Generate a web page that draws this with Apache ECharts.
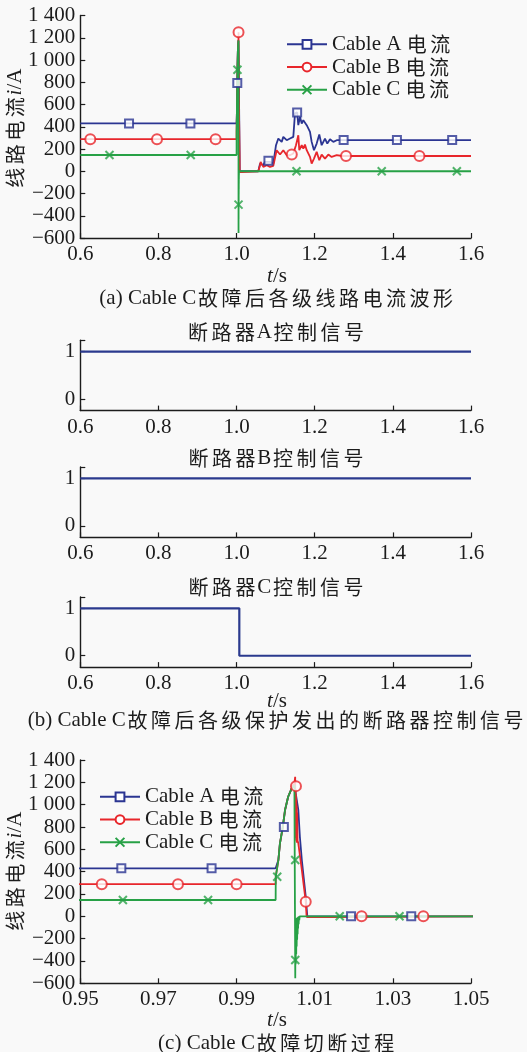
<!DOCTYPE html>
<html>
<head>
<meta charset="utf-8">
<script src="https://cdn.jsdelivr.net/npm/echarts@6/dist/echarts.min.js"></script>
<style>
  html, body { margin: 0; padding: 0; background: #f9f9f9; }
  #chart { width: 527px; height: 1052px; }
</style>
</head>
<body>
<div id="chart"></div>
<script>
// ---- line currents i (A) against time t (s) ----
const cableA = [
  [0.6, 430], [1.0, 430], [1.0004, 440], [1.0007, 504], [1.0011, 654], [1.0018, 794], [1.0024, 952],
  [1.0032, 1071], [1.0041, 1146], [1.0048, 1176], [1.0051, 1185], [1.0058, 954], [1.0062, 713],
  [1.0067, 504], [1.0077, 176], [1.0081, 0],
  [1.0556, 0], [1.06, 69], [1.0684, 54], [1.0727, 84], [1.0771, 99], [1.0855, 84], [1.094, 69],
  [1.0983, 84], [1.1009, 234], [1.1068, 294], [1.1155, 264], [1.1196, 309], [1.1283, 279],
  [1.1367, 294], [1.1452, 309], [1.1495, 520], [1.155, 529], [1.158, 414], [1.1623, 489],
  [1.1667, 429], [1.1708, 459], [1.1795, 414], [1.1836, 420], [1.1879, 354], [1.1922, 264],
  [1.1981, 189], [1.205, 249], [1.2117, 330], [1.2178, 234], [1.2263, 294], [1.2322, 249],
  [1.2391, 288], [1.2476, 264], [1.2563, 279], [1.269, 280], [1.6, 280]
];
const cableB = [
  [0.6, 288], [1.0, 288], [1.00003, 355], [1.0007, 504], [1.0011, 654], [1.0018, 794], [1.0024, 952],
  [1.0032, 1071], [1.0041, 1146], [1.0048, 1190], [1.005, 1250],
  [1.00505, 720], [1.0051, 1140], [1.00515, 700], [1.0052, 1090], [1.00525, 680], [1.0053, 1040],
  [1.00535, 670], [1.0054, 990], [1.00545, 660], [1.0055, 930], [1.0056, 680], [1.0058, 654],
  [1.0067, 415], [1.0077, 131], [1.0079, 12], [1.008, -8], [1.0135, -8], [1.0136, 0],
  [1.0556, 0], [1.06, 54], [1.0615, 84], [1.0684, 39], [1.0771, 54], [1.0855, 39], [1.094, 48],
  [1.0983, 48], [1.1026, 189], [1.1068, 204], [1.1112, 150], [1.1196, 189], [1.1283, 144],
  [1.1367, 144], [1.1452, 159], [1.152, 234], [1.158, 324], [1.1605, 189], [1.1667, 234],
  [1.1708, 204], [1.175, 240], [1.1795, 189], [1.1879, 129], [1.1922, 69], [1.1981, 114],
  [1.205, 174], [1.2117, 99], [1.2178, 150], [1.2263, 114], [1.2348, 150], [1.2433, 129],
  [1.2563, 144], [1.27, 137], [1.6, 137]
];
const cableC = [
  [0.6, 146], [1.0, 146], [1.00003, 355], [1.0007, 504], [1.0011, 654], [1.0018, 794], [1.0024, 952],
  [1.0032, 1071], [1.0041, 1146], [1.0048, 1176], [1.005, 1180],
  [1.00502, -555], [1.00508, -30], [1.00514, -430], [1.0052, -25], [1.00526, -340], [1.00532, -20],
  [1.00538, -270], [1.00544, -15], [1.0055, -210], [1.00556, -10], [1.00562, -160], [1.00568, -8],
  [1.00574, -110], [1.0058, -5], [1.00588, -70], [1.00596, 0], [1.00605, -35], [1.00615, 0],
  [1.6, 0]
];

// marker positions on the full-range view (a)
const marksA_full = [[0.7247, 430], [0.8818, 430], [1.0018, 794], [1.0815, 95], [1.155, 529],
  [1.274, 280], [1.4104, 280], [1.5518, 280]];
const marksB_full = [[0.6256, 288], [0.7963, 288], [0.9463, 288], [1.005, 1250], [1.1413, 150],
  [1.2801, 137], [1.468, 137]];
const marksC_full = [[0.6747, 146], [0.8826, 146], [1.0022, 912], [1.00501, -300], [1.1534, 0],
  [1.3715, 0], [1.5638, 0]];

// marker positions on the close-up view (c)
const marksA_zoom = [[0.9605, 430], [0.9836, 430], [1.0021, 800], [1.0193, 0], [1.0347, 0]];
const marksB_zoom = [[0.9555, 288], [0.975, 288], [0.99, 288], [1.0052, 1166], [1.0077, 131],
  [1.022, 0], [1.0378, 0]];
const marksC_zoom = [[0.9609, 146], [0.9827, 146], [1.0004, 355], [1.00501, 504], [1.00502, -391],
  [1.0164, 0], [1.0317, 0]];

// ---- breaker control signals ----
const sigA = [[0.6, 1], [1.6, 1]];
const sigB = [[0.6, 1], [1.6, 1]];
const sigC = [[0.6, 1], [1.007, 1], [1.007, 0], [1.6, 0]];

// ---- ticks ----
const xTicksFull = [0.6, 0.8, 1.0, 1.2, 1.4, 1.6];
const xTicksZoom = [0.95, 0.97, 0.99, 1.01, 1.03, 1.05];
const yTicksCurrent = [-600, -400, -200, 0, 200, 400, 600, 800, 1000, 1200, 1400];
const yTicksSignal = [0, 1];

// ---- texts ----
const seriesNames = ['Cable A 电流', 'Cable B 电流', 'Cable C 电流'];
const signalTitles = ['断路器A控制信号', '断路器B控制信号', '断路器C控制信号'];
const captionA = '(a) Cable C故障后各级线路电流波形';
const captionB = '(b) Cable C故障后各级保护发出的断路器控制信号';
const captionC = '(c) Cable C故障切断过程';

const INK = '#1c1c1c';
const BG = '#f9f9f9';
const BLUE = '#2b3592';
const RED = '#e8262b';
const GREEN = '#27a146';
const SIGNAL = '#2b3a8e';
const SERIF = "'Liberation Serif', 'Times New Roman', serif";
const HAN = "'Noto Sans CJK SC', sans-serif";
const CROSS = 'emptypath://M0,0L10,10M0,10L10,0';

// Han characters get a fixed advance so they are evenly spaced
const rich = {
  h: { fontFamily: HAN, fontSize: 20, width: 23.5, color: INK, fill: INK },
  it: { fontFamily: SERIF, fontStyle: 'italic', fontSize: 21, color: INK, fill: INK }
};
function spaced(s) {
  return s.replace(/[\u4e00-\u9fff]/g, ch => '{h|' + ch + '}');
}
const yTitle = spaced('线路电流') + '{it|i}/A';
const xTitle = '{it|t}/s';

function fmtCurrent(v) {
  const a = Math.abs(v);
  const body = a >= 1000 ? Math.floor(a / 1000) + ' ' + String(a % 1000).padStart(3, '0') : String(a);
  return (v < 0 ? '\u2212' : '') + body;
}

const GRID_LEFT = 80.3, GRID_W = 390.7;
const grids = [
  { left: GRID_LEFT, top: 15.5, width: GRID_W, height: 222.5 },
  { left: GRID_LEFT, top: 340.3, width: GRID_W, height: 70.3 },
  { left: GRID_LEFT, top: 467, width: GRID_W, height: 70.4 },
  { left: GRID_LEFT, top: 597, width: GRID_W, height: 70.1 },
  { left: GRID_LEFT, top: 760, width: GRID_W, height: 223.3 }
];

const axisLine = { show: true, onZero: false, lineStyle: { color: INK, width: 1.4 } };
const labelBase = { color: INK, fontFamily: SERIF, fontSize: 21 };

function xAxis(gi, ticks, digits) {
  return {
    type: 'value', gridIndex: gi, min: ticks[0], max: ticks[ticks.length - 1],
    axisLine: axisLine,
    axisTick: { show: true, inside: true, length: 5, customValues: ticks, lineStyle: { color: INK, width: 1.2 } },
    axisLabel: Object.assign({ customValues: ticks, margin: 6, formatter: v => v.toFixed(digits) }, labelBase),
    splitLine: { show: false }
  };
}
function yAxis(gi, min, max, ticks, labels, fmt) {
  return {
    type: 'value', gridIndex: gi, min: min, max: max,
    axisLine: axisLine,
    axisTick: { show: true, inside: true, length: 5, customValues: ticks, lineStyle: { color: INK, width: 1.2 } },
    axisLabel: Object.assign({ customValues: labels, margin: 5, formatter: fmt }, labelBase),
    splitLine: { show: false }
  };
}

const colors = [BLUE, RED, GREEN];
const symbols = ['emptyRect', 'emptyCircle', CROSS];
const symbolSizes = [8, 10, 8];
const currents = [cableA, cableB, cableC];
const marksFull = [marksA_full, marksB_full, marksC_full];
const marksZoom = [marksA_zoom, marksB_zoom, marksC_zoom];

const series = [];
[0, 4].forEach(gi => {
  currents.forEach((d, k) => {
    series.push({
      type: 'line', name: seriesNames[k], xAxisIndex: gi, yAxisIndex: gi, data: d,
      symbol: symbols[k], showSymbol: false, clip: true, silent: true, z: 2,
      lineStyle: { color: colors[k], width: 1.8 }, itemStyle: { color: colors[k] }
    });
  });
  const marks = gi === 0 ? marksFull : marksZoom;
  marks.forEach((d, k) => {
    series.push({
      type: 'scatter', name: 'marks-' + gi + '-' + k, xAxisIndex: gi, yAxisIndex: gi, data: d,
      symbol: symbols[k], symbolSize: symbolSizes[k], silent: true, z: 3,
      itemStyle: { color: colors[k] }
    });
  });
});
[sigA, sigB, sigC].forEach((d, k) => {
  series.push({
    type: 'line', name: 'signal-' + k, xAxisIndex: k + 1, yAxisIndex: k + 1, data: d,
    showSymbol: false, symbol: 'none', silent: true,
    lineStyle: { color: SIGNAL, width: 2.2 }
  });
});

function legend(left, top) {
  return {
    data: seriesNames, orient: 'vertical', left: left, top: top,
    itemWidth: 40, itemHeight: 11, itemGap: 0, selectedMode: false,
    formatter: name => spaced(name),
    textStyle: { color: INK, fontFamily: SERIF, fontSize: 21, lineHeight: 22.7, rich: rich }
  };
}

function text(x, y, str, rot) {
  return {
    type: 'text', x: x, y: y, rotation: rot || 0, silent: true,
    style: {
      text: str, fill: INK, fontFamily: SERIF, fontSize: 21,
      align: 'center', verticalAlign: 'middle', rich: rich
    }
  };
}

const option = {
  backgroundColor: BG,
  animation: false,
  grid: grids,
  xAxis: [
    xAxis(0, xTicksFull, 1), xAxis(1, xTicksFull, 1), xAxis(2, xTicksFull, 1),
    xAxis(3, xTicksFull, 1), xAxis(4, xTicksZoom, 2)
  ],
  yAxis: [
    yAxis(0, -600, 1400, yTicksCurrent, yTicksCurrent, fmtCurrent),
    yAxis(1, -0.24, 1.24, yTicksSignal.concat([1.24]), yTicksSignal, v => String(v)),
    yAxis(2, -0.24, 1.24, yTicksSignal.concat([1.24]), yTicksSignal, v => String(v)),
    yAxis(3, -0.24, 1.24, yTicksSignal.concat([1.24]), yTicksSignal, v => String(v)),
    yAxis(4, -600, 1400, yTicksCurrent, yTicksCurrent, fmtCurrent)
  ],
  legend: [legend(281, 28), legend(94, 780.5)],
  series: series,
  graphic: [
    text(15, 129, yTitle, Math.PI / 2),
    text(277, 276, xTitle),
    text(277, 298, spaced(captionA)),
    text(276, 332, spaced(signalTitles[0])),
    text(276, 458, spaced(signalTitles[1])),
    text(276, 587, spaced(signalTitles[2])),
    text(277, 701, xTitle),
    text(276.5, 720, spaced(captionB)),
    text(15, 872, yTitle, Math.PI / 2),
    text(277, 1020, xTitle),
    text(277, 1043.6, spaced(captionC))
  ]
};

const chart = echarts.init(document.getElementById('chart'), null, { renderer: 'canvas' });
chart.setOption(option);
</script>
</body>
</html>
